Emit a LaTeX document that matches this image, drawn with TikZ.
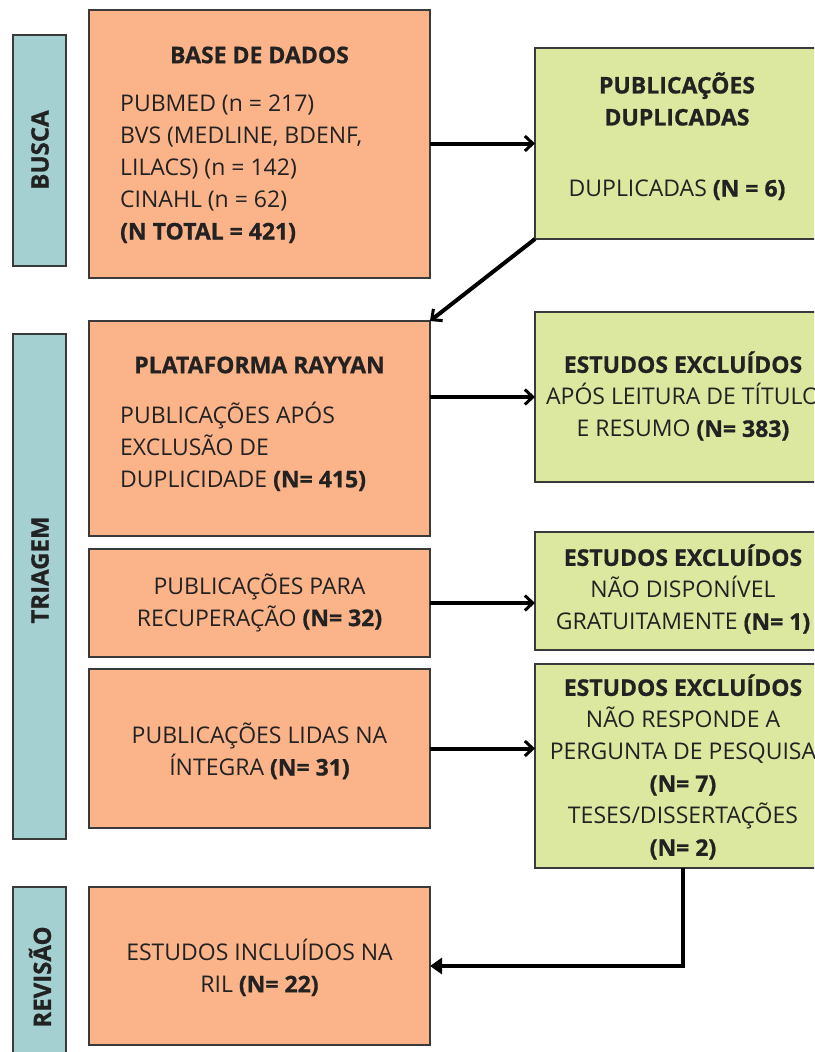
\documentclass[tikz,border=0pt]{standalone}
\usepackage{fontspec}
\setmainfont{Open Sans}[BoldFeatures={FakeBold=0.8}]
\usetikzlibrary{arrows.meta}
\definecolor{orangebox}{HTML}{FBB48A}
\definecolor{greenbox}{HTML}{DCE8A0}
\definecolor{tealbox}{HTML}{A4D0D2}
\definecolor{edgecol}{HTML}{3A3A3A}
\definecolor{txtcol}{HTML}{222222}
\begin{document}
\begin{tikzpicture}[x=1pt,y=-1pt,
  basebox/.style={draw=edgecol,line width=1.5pt,inner sep=0pt,outer sep=0pt},
  obox/.style={basebox,fill=orangebox,minimum width=341pt},
  gbox/.style={basebox,fill=greenbox,minimum width=296pt},
  tbox/.style={basebox,fill=tealbox,minimum width=53pt},
  txt/.style={text=txtcol,font=\fontsize{23}{32}\selectfont,inner sep=0pt},
  stage/.style={text=txtcol,font=\fontsize{24}{26}\selectfont\bfseries,rotate=90,inner sep=0pt},
  arr/.style={line width=4pt,-{Straight Barb[length=8pt,width=15pt,line width=3pt]}},
  arrf/.style={line width=4pt,-{Triangle[length=12pt,width=16pt]}}]
\clip (0,0) rectangle (814,1052);
\fill[white] (0,0) rectangle (814,1052);
% stage boxes
\node[tbox,minimum height=231pt] (busca) at (39.5,150.5) {};
\node[tbox,minimum height=505pt] (triagem) at (39.5,586.5) {};
\node[tbox,minimum height=193pt] (revisao) at (39.5,983.5) {};
\node[stage] (buscat) at (40,150) {BUSCA};
\node[stage] (triagemt) at (40,570) {TRIAGEM};
\node[stage] (revisaot) at (40,977) {REVISÃO};
% orange boxes
\node[obox,minimum height=268pt] (base) at (259.5,144) {};
\node[obox,minimum height=215pt] (rayyan) at (259.5,428.5) {};
\node[obox,minimum height=108pt] (recup) at (259.5,603) {};
\node[obox,minimum height=159pt] (lidas) at (259.5,748.5) {};
\node[obox,minimum height=158pt] (incl) at (259.5,966) {};
% green boxes
\node[gbox,minimum height=191pt] (dup) at (683,143.5) {};
\node[gbox,minimum height=170pt] (excla) at (683,397) {};
\node[gbox,minimum height=118pt] (exclb) at (683,591) {};
\node[gbox,minimum height=204pt] (exclc) at (683,766) {};
% texts
\node[txt,font=\fontsize{23}{32}\selectfont\bfseries] (baset) at (259.5,55) {BASE DE DADOS};
\node[txt,align=left,anchor=west] (basel) at (120,169) {PUBMED (n = 217)\\BVS (MEDLINE, BDENF,\\LILACS) (n = 142)\\CINAHL (n = 62)\\\textbf{(N TOTAL = 421)}};
\node[txt,font=\fontsize{23}{32}\selectfont\bfseries] (rayyant) at (259.5,365) {PLATAFORMA RAYYAN};
\node[txt,align=left,anchor=west] (rayyanl) at (120,446.5) {PUBLICAÇÕES APÓS\\EXCLUSÃO DE\\DUPLICIDADE \textbf{(N= 415)}};
\node[txt,align=center] (recupt) at (259.5,602.5) {PUBLICAÇÕES PARA\\RECUPERAÇÃO \textbf{(N= 32)}};
\node[txt,align=center] (lidast) at (259.5,751) {PUBLICAÇÕES LIDAS NA\\ÍNTEGRA \textbf{(N= 31)}};
\node[txt,align=center] (inclt) at (259.5,967.5) {ESTUDOS INCLUÍDOS NA\\RIL \textbf{(N= 22)}};
\node[txt,align=center,font=\fontsize{23}{32}\selectfont\bfseries] (dupt) at (677,99) {PUBLICAÇÕES\\DUPLICADAS};
\node[txt] (dupl) at (677,190) {DUPLICADAS \textbf{(N = 6)}};
\node[txt,align=center] (exclat) at (683,396) {\textbf{ESTUDOS EXCLUÍDOS}\\APÓS LEITURA DE TÍTULO\\E RESUMO \textbf{(N= 383)}};
\node[txt,align=center] (exclbt) at (683,589) {\textbf{ESTUDOS EXCLUÍDOS}\\NÃO DISPONÍVEL\\GRATUITAMENTE \textbf{(N= 1)}};
\node[txt,align=center] (exclct) at (683,767) {\textbf{ESTUDOS EXCLUÍDOS}\\NÃO RESPONDE A\\PERGUNTA DE PESQUISA\\\textbf{(N= 7)}\\TESES/DISSERTAÇÕES\\\textbf{(N= 2)}};
% connectors
\draw[arr] (base.east |- dup.west) -- (dup.west);
\draw[arr] (dup.south west) -- (rayyan.north east);
\draw[arr] (rayyan.east |- excla.west) -- (excla.west);
\draw[arr] (recup.east) -- (exclb.west |- recup.east);
\draw[arr] (lidas.east) -- (exclc.west |- lidas.east);
\draw[arrf] (exclc.south) |- (incl.east);
\end{tikzpicture}
\end{document}
